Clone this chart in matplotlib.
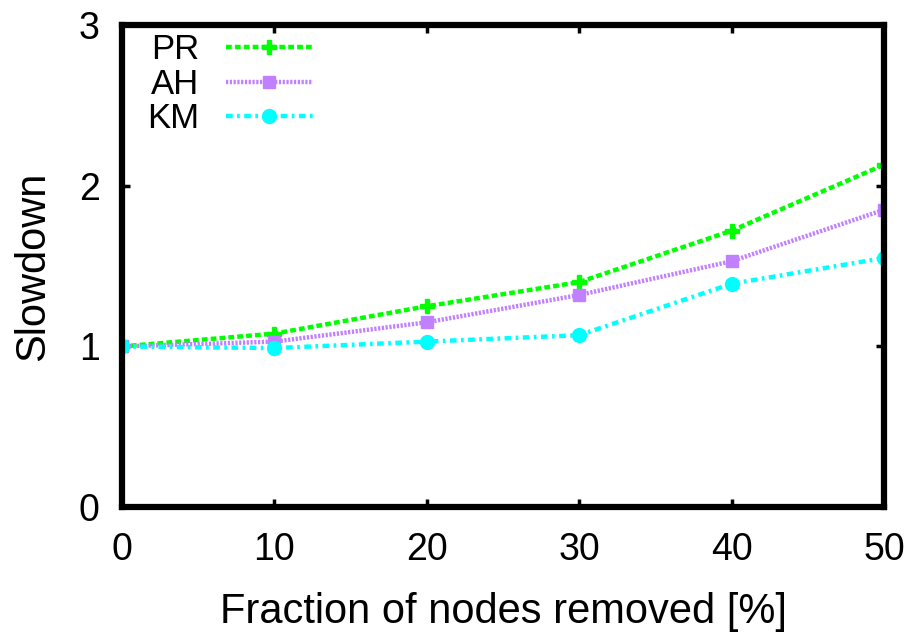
import matplotlib
matplotlib.use("Agg")
import matplotlib.pyplot as plt

plt.rcParams['font.family'] = ['Liberation Sans', 'DejaVu Sans']

removed = [0, 10, 20, 30, 40, 50]
pr = [1.0, 1.08, 1.25, 1.40, 1.72, 2.13]
ah = [1.0, 1.03, 1.15, 1.32, 1.53, 1.85]
km = [1.0, 0.99, 1.03, 1.07, 1.39, 1.55]

fig = plt.figure(figsize=(9.18, 6.38), dpi=100)
ax = fig.add_axes([0.133, 0.205, 0.830, 0.756])

ax.plot(removed, pr, color='#00ff00', linestyle=(0, (1.3, 0.7)), linewidth=3.2,
        marker='P', markersize=10, label='PR')
ax.plot(removed, ah, color='#c080ff', linestyle=(0, (0.5, 0.35)), linewidth=3.2,
        marker='s', markersize=9, label='AH')
ax.plot(removed, km, color='#00ffff', linestyle=(0, (1.5, 1.0, 0.6, 1.0)), linewidth=3.2,
        marker='o', markersize=10, label='KM')

ax.set_xlim(0, 50)
ax.set_ylim(0, 3)
ax.set_xticks(removed)
ax.set_yticks([0, 1, 2, 3])
ax.tick_params(direction='in', length=6, width=2.5, labelsize=27,
               top=True, right=True)
ax.tick_params(axis='x', pad=18)
ax.tick_params(axis='y', pad=16)
for s in ax.spines.values():
    s.set_linewidth(4.5)

ax.set_xlabel('Fraction of nodes removed [%]', fontsize=30)
ax.set_ylabel('Slowdown', fontsize=30)
ax.xaxis.label.set_va('center')
ax.yaxis.label.set_va('center')
ax.xaxis.set_label_coords(0.5, -0.218)
ax.yaxis.set_label_coords(-0.117, 0.5)

leg = ax.legend(loc='upper left', bbox_to_anchor=(-0.0076, 1.048), frameon=False,
                markerfirst=False, fontsize=25, handlelength=2.5,
                labelspacing=0.05, handletextpad=0.75)
for t in leg.get_texts():
    t.set_ha('right')

fig.savefig('out.png', dpi=100)
